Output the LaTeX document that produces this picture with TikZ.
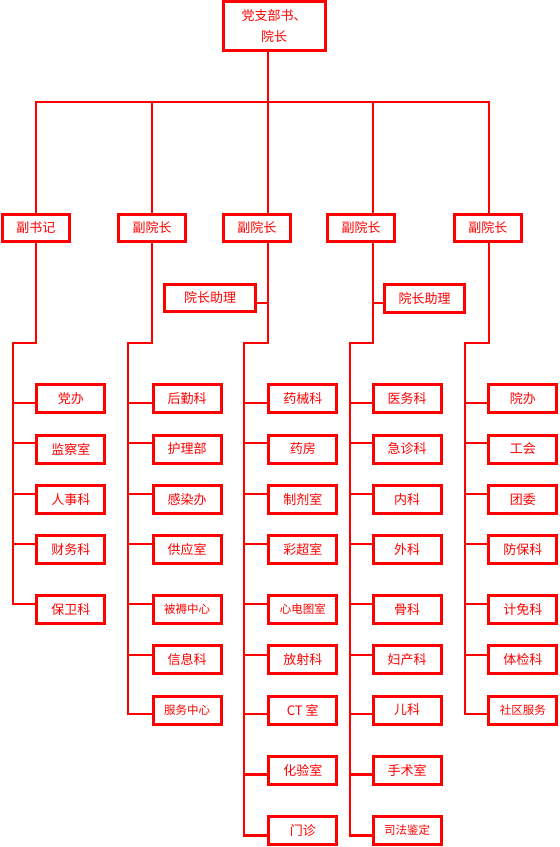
\documentclass[tikz,border=0pt]{standalone}
\usepackage{fontspec}
\newfontfamily\cjk{Noto Sans CJK SC}
\newcommand\smallcjk{\fontsize{11.5}{13}\selectfont}
\begin{document}
\begin{tikzpicture}[x=1pt,y=-1pt,
  box/.style={draw=red, line width=3pt, text=red, font=\cjk\fontsize{13}{15}\selectfont,
              inner sep=0pt, minimum width=68pt, minimum height=28pt},
  wire/.style={draw=red, line width=2.3pt}]
\useasboundingbox (0,0) rectangle (560,847);

% top
\node[box, minimum width=102pt, minimum height=48.7pt, align=center,
      font=\cjk\fontsize{13}{21.6}\selectfont] (top) at (274.2,25.9) {党支部书、\\院长};

% level 2
\node[box, minimum width=67.5pt, minimum height=27.6pt] (v1) at (35.9,228) {副书记};
\node[box, minimum width=67.5pt, minimum height=27.6pt] (v2) at (152,228) {副院长};
\node[box, minimum width=67.5pt, minimum height=27.6pt] (v3) at (256.8,228) {副院长};
\node[box, minimum width=67.5pt, minimum height=27.6pt] (v4) at (361.2,228) {副院长};
\node[box, minimum width=67.5pt, minimum height=27.6pt] (v5) at (487.8,228) {副院长};

% assistants
\node[box, minimum width=90.4pt, minimum height=27.6pt] (a1) at (210,298) {院长助理};
\node[box, minimum width=79.4pt, minimum height=28.3pt] (a2) at (424.5,298.3) {院长助理};

% bus coordinates
\coordinate (b1) at (36,101.7);
\coordinate (b2) at (151.7,101.7);
\coordinate (b3) at (268,101.7);
\coordinate (b4) at (373.3,101.7);
\coordinate (b5) at (489.3,101.7);
% jog coordinates
\coordinate (j1) at (13.3,343.3);
\coordinate (j2) at (128.3,343.3);
\coordinate (j3) at (244,343.3);
\coordinate (j4) at (350,343.3);
\coordinate (j5) at (465,343.3);

% leaves
\foreach \nm/\txt/\yy/\dy in {c1a/党办/398.7/-4.6, c1b/监察室/449/6.3, c1c/人事科/499.5/5.5,
    c1d/财务科/549.5/5.5, c1e/保卫科/609.2/4.9}
  {\node[box] (\nm) at (70.9,\yy) {\txt};
   \draw[wire] ([yshift=\dy pt]\nm.west) -- ([yshift=\dy pt]\nm.west -| j1);}

\foreach \nm/\txt/\yy/\dy in {c2a/后勤科/398.7/-4.6, c2b/护理部/449/6.3, c2c/感染办/499.5/5.5,
    c2d/供应室/549.5/5.5, c2e/{\smallcjk 被褥中心}/609.2/4.9, c2f/信息科/659.5/4.5,
    c2g/{\smallcjk 服务中心}/710/-4.3}
  {\node[box] (\nm) at (187,\yy) {\txt};
   \draw[wire] ([yshift=\dy pt]\nm.west) -- ([yshift=\dy pt]\nm.west -| j2);}

\foreach \nm/\txt/\yy/\dy in {c3a/药械科/398.7/-4.6, c3b/药房/449/6.3, c3c/制剂室/499.5/5.5,
    c3d/彩超室/549.5/5.5, c3e/{\smallcjk 心电图室}/609.2/4.9, c3f/放射科/659.5/4.5,
    c3g/CT 室/710/-4.3, c3h/化验室/770/-4.5, c3i/{门诊\hspace{22pt}}/830.3/-5.2}
  {\node[box] (\nm) at (302.8,\yy) {\txt};
   \draw[wire] ([yshift=\dy pt]\nm.west) -- ([yshift=\dy pt]\nm.west -| j3);}

\foreach \nm/\txt/\yy/\dy in {c4a/医务科/398.7/-4.6, c4b/急诊科/449/6.3, c4c/内科/499.5/5.5,
    c4d/外科/549.5/5.5, c4e/骨科/609.2/4.9, c4f/妇产科/659.5/4.5,
    c4g/儿科/710/-4.3, c4h/手术室/770/-4.5, c4i/{\smallcjk 司法鉴定}/830.3/-5.2}
  {\node[box] (\nm) at (407,\yy) {\txt};
   \draw[wire] ([yshift=\dy pt]\nm.west) -- ([yshift=\dy pt]\nm.west -| j4);}

\foreach \nm/\txt/\yy/\dy in {c5a/院办/398.7/-4.6, c5b/工会/449/6.3, c5c/团委/499.5/5.5,
    c5d/防保科/549.5/5.5, c5e/计免科/609.2/4.9, c5f/体检科/659.5/4.5,
    c5g/{\smallcjk 社区服务}/710/-4.3}
  {\node[box] (\nm) at (522.8,\yy) {\txt};
   \draw[wire] ([yshift=\dy pt]\nm.west) -- ([yshift=\dy pt]\nm.west -| j5);}

% top connectors
\draw[wire] (top.south -| b3) -- (b3);
\draw[wire] (v1.north -| b1) |- (b5) -- (v5.north -| b5);
\draw[wire] (b2) -- (v2.north -| b2);
\draw[wire] (b3) -- (v3.north -| b3);
\draw[wire] (b4) -- (v4.north -| b4);

% column trunks
\draw[wire] (v1.south -| b1) |- (j1) |- ([yshift=4.9pt]c1e.west);
\draw[wire] (v2.south -| b2) |- (j2) |- ([yshift=-4.3pt]c2g.west);
\draw[wire] (v3.south -| b3) |- (j3) |- ([yshift=-5.2pt]c3i.west);
\draw[wire] (v4.south -| b4) |- (j4) |- ([yshift=-5.2pt]c4i.west);
\draw[wire] (v5.south -| b5) |- (j5) |- ([yshift=-4.3pt]c5g.west);

% assistant links
\draw[wire] ([yshift=-5.3pt]a1.east) -- ([yshift=-5.3pt]a1.east -| b3);
\draw[wire] ([yshift=-5pt]a2.west) -- ([yshift=-5pt]a2.west -| b4);
\end{tikzpicture}
\end{document}
